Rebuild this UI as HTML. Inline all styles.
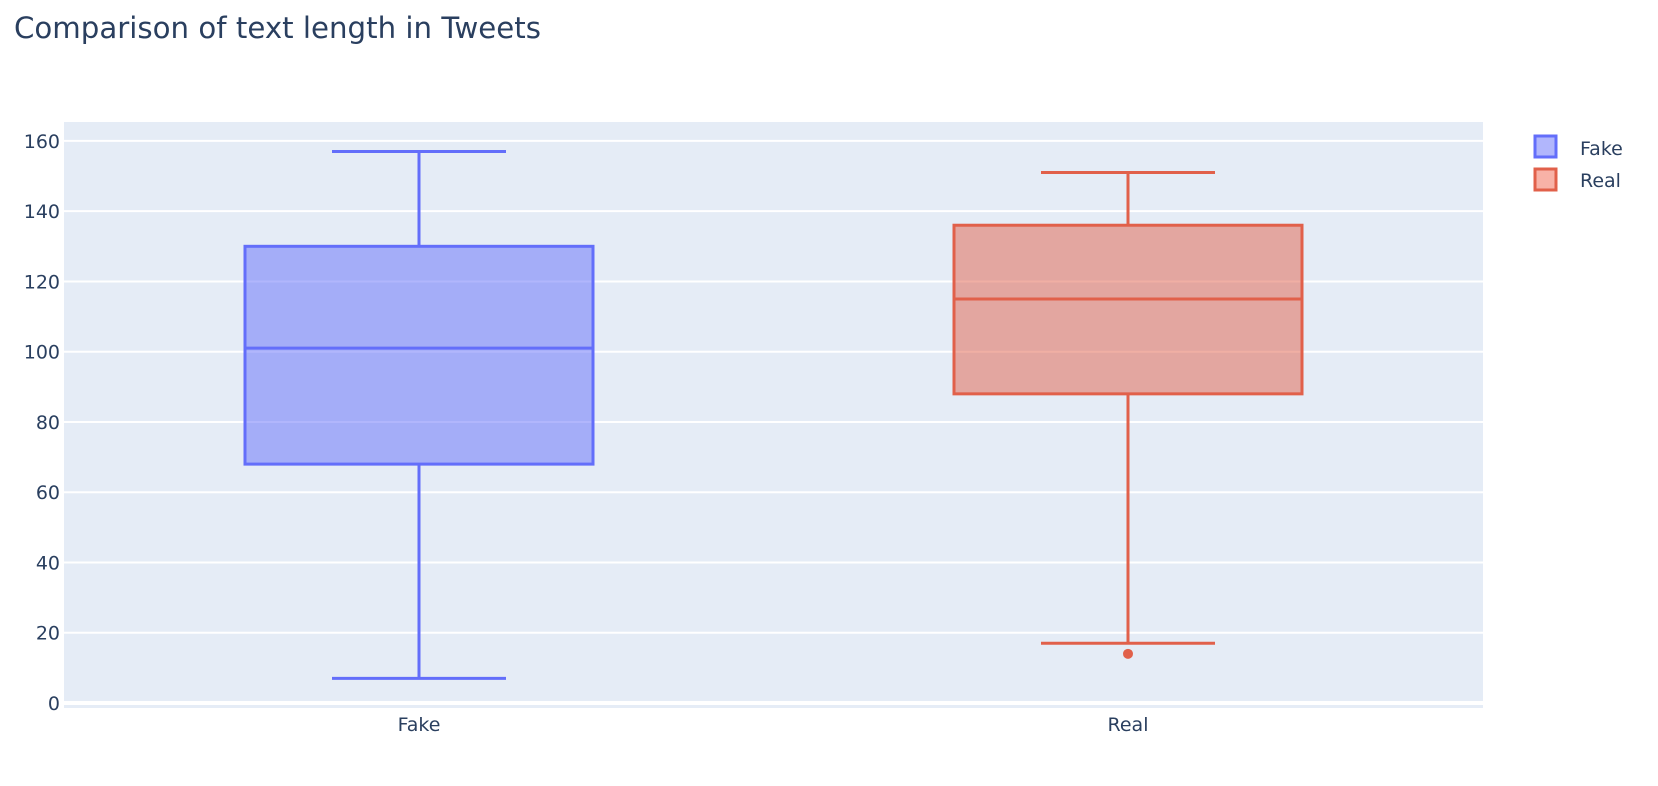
<!DOCTYPE html>
<html><head><meta charset="utf-8"><style>
html,body{margin:0;padding:0;background:#fff;}
svg{display:block;font-family:"DejaVu Sans","Liberation Sans",sans-serif;}
</style></head><body>
<svg id="chart" width="1658" height="786">
<text x="14" y="38" font-size="29" fill="#2a3f5f" textLength="527" lengthAdjust="spacingAndGlyphs">Comparison of text length in Tweets</text>
<rect x="64" y="122" width="1419" height="586" fill="#e5ecf6"/>
<g id="grid"></g><g id="boxes"></g>
<g>
<g><rect x="1535" y="136" width="21" height="21" fill="rgba(99,110,250,0.5)" stroke="#636efa" stroke-width="3"/><text x="1580" y="155" font-size="19" fill="#2a3f5f">Fake</text></g>
<g><rect x="1535" y="169" width="21" height="21" fill="rgba(239,85,59,0.45)" stroke="#e1604a" stroke-width="3"/><text x="1580" y="187" font-size="19" fill="#2a3f5f">Real</text></g>
</g>
</svg>
<script>
const categories=["Fake","Real"];
const mins=[7,17];
const q1s=[68,88];
const medians=[101,115];
const q3s=[130,136];
const maxs=[157,151];
const outliers=[[],[14]];
const yTicks=[0,20,40,60,80,100,120,140,160];
const colors=["#636efa","#e1604a"];
const fills=["rgba(99,110,250,0.5)","rgba(225,96,74,0.5)"];
const NS="http://www.w3.org/2000/svg";
const y=v=>703-v*3.513;
const x=i=>[419,1128][i];
const halfBox=174, halfCap=87;
function mk(p,tag,a){const e=document.createElementNS(NS,tag);for(const k in a)e.setAttribute(k,a[k]);p.appendChild(e);return e;}
const grid=document.getElementById('grid');
yTicks.forEach(t=>{
 const l=mk(grid,'line',{x1:64,x2:1483,y1:y(t),y2:y(t),stroke:'#fff','stroke-width':t===0?4:2});
 
 
 const tx=mk(grid,'text',{x:60,y:y(t)+7,'text-anchor':'end','font-size':19,fill:'#2a3f5f'});tx.textContent=t;
 
 
});
const boxes=document.getElementById('boxes');
categories.forEach((c,i)=>{
 const g=mk(boxes,'g',{});
 
 
 const s={stroke:colors[i],'stroke-width':3,fill:'none'};
 mk(g,'line',Object.assign({x1:x(i),x2:x(i),y1:y(maxs[i]),y2:y(q3s[i])},s));
 mk(g,'line',Object.assign({x1:x(i),x2:x(i),y1:y(q1s[i]),y2:y(mins[i])},s));
 mk(g,'line',Object.assign({x1:x(i)-halfCap,x2:x(i)+halfCap,y1:y(maxs[i]),y2:y(maxs[i])},s));
 mk(g,'line',Object.assign({x1:x(i)-halfCap,x2:x(i)+halfCap,y1:y(mins[i]),y2:y(mins[i])},s));
 mk(g,'rect',{x:x(i)-halfBox,y:y(q3s[i]),width:2*halfBox,height:y(q1s[i])-y(q3s[i]),fill:fills[i],stroke:colors[i],'stroke-width':3});
 mk(g,'line',Object.assign({x1:x(i)-halfBox,x2:x(i)+halfBox,y1:y(medians[i]),y2:y(medians[i])},s));
 outliers[i].forEach(o=>{const d=mk(g,'circle',{cx:x(i),cy:y(o),r:5,fill:colors[i]});
  
  });
 const tx=mk(boxes,'text',{x:x(i),y:731,'text-anchor':'middle','font-size':19,fill:'#2a3f5f'});tx.textContent=c;
 
 
});
</script>
</body></html>
